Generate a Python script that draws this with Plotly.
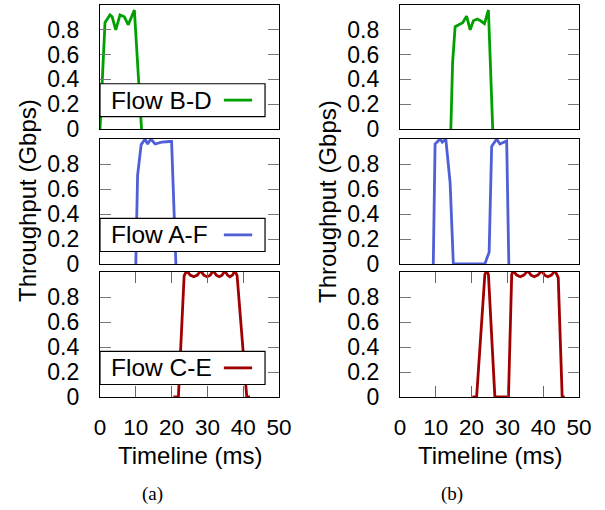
import plotly.graph_objects as go

# ---------------- data (time in ms, throughput in Gbps) ----------------
a_bd_t = [0, 1.4, 2.8, 3.4, 4.4, 5.6, 6.8, 7.9, 9.6, 11.6]
a_bd_v = [0, 0.86, 0.92, 0.905, 0.80, 0.92, 0.905, 0.84, 0.96, 0]

a_af_t = [10.0, 10.5, 11.5, 12.6, 13.3, 14.2, 15.4, 17.2, 19.5, 20.0, 21.2]
a_af_v = [0, 0.71, 0.955, 1.0, 0.96, 1.0, 0.96, 0.975, 0.98, 0.98, 0]

a_ce_t = [20.5, 21.9, 23.5, 24.2, 25.2, 26.2, 27.2, 28.1, 29.0, 29.9, 30.8, 31.6,
          32.5, 33.3, 34.1, 34.9, 35.6, 36.3, 37.0, 37.7, 38.3, 41.0, 41.9]
a_ce_v = [0, 0, 0.97, 1.01, 0.975, 0.962, 0.975, 1.01, 0.975, 0.962, 0.975, 1.01,
          0.975, 0.962, 0.975, 1.01, 0.975, 0.962, 0.975, 1.01, 0.97, 0, 0]

b_bd_t = [14.2, 14.7, 15.4, 16.8, 17.5, 18.6, 19.6, 20.5, 21.6, 22.5, 23.6, 24.7, 25.9]
b_bd_v = [0, 0.54, 0.825, 0.85, 0.857, 0.91, 0.80, 0.873, 0.887, 0.873, 0.85, 0.96, 0]

b_af_t = [9.3, 9.8, 10.5, 11.2, 11.8, 12.8, 14.0, 14.9, 23.7, 24.9, 25.6, 26.1,
          27.0, 27.9, 29.8, 30.4]
b_af_v = [0, 0.96, 0.98, 1.0, 0.975, 1.0, 0.65, 0, 0, 0.095, 0.94, 0.96,
          1.0, 0.96, 0.985, 0]

b_ce_t = [20.2, 21.4, 23.7, 24.2, 24.7, 26.5, 30.3, 31.2, 31.6, 32.6, 33.6, 34.6,
          35.7, 36.6, 37.5, 38.5, 39.6, 40.4, 41.3, 42.3, 43.3, 44.2, 45.3, 46.0]
b_ce_v = [0, 0, 0.98, 1.01, 0.98, 0, 0, 0.98, 1.01, 0.975, 0.962, 0.975,
          1.01, 0.975, 0.962, 0.975, 1.01, 0.975, 0.962, 0.975, 1.01, 0.955, 0, 0]

flow_names = ["Flow B-D", "Flow A-F", "Flow C-E"]
flow_colors = ["#00A000", "#4F5FD6", "#A00000"]
y_tickvals = [0, 0.2, 0.4, 0.6, 0.8]
y_ticktext = ["0", "0.2", "0.4", "0.6", "0.8"]
x_tickvals = [0, 10, 20, 30, 40, 50]
x_ticktext = ["0", "10", "20", "30", "40", "50"]
captions = ["(a)", "(b)"]

series = [
    (a_bd_t, a_bd_v, 0), (a_af_t, a_af_v, 1), (a_ce_t, a_ce_v, 2),
    (b_bd_t, b_bd_v, 0), (b_af_t, b_af_v, 1), (b_ce_t, b_ce_v, 2),
]

# ---------------- layout geometry (pixels) ----------------
W, H = 605, 510
col_px = [(100, 279), (400, 579)]
row_px = [(5, 129), (139, 264), (272, 397)]
FONT = "Liberation Sans, Arial, sans-serif"

fig = go.Figure()
layout = dict(
    width=W, height=H, margin=dict(l=0, r=0, t=0, b=0, autoexpand=False),
    paper_bgcolor="white", plot_bgcolor="white", showlegend=False,
    font=dict(family=FONT, size=23, color="black"),
)
shapes, annotations = [], []

for i, (t, v, fi) in enumerate(series):
    n = i + 1
    col, row = i // 3, i % 3
    xs = "" if n == 1 else str(n)
    fig.add_trace(go.Scatter(
        x=t, y=v, mode="lines", name=flow_names[fi],
        line=dict(color=flow_colors[fi], width=2.8),
        xaxis="x" + xs, yaxis="y" + xs,
    ))
    x0, x1 = col_px[col]
    y0, y1 = row_px[row]
    bottom = row == 2
    layout["xaxis" + xs] = dict(
        domain=[x0 / W, x1 / W], anchor="y" + xs, range=[0, 50], automargin=False,
        showline=True, linecolor="black", linewidth=1.2, mirror="ticks" if bottom else True,
        showgrid=False, zeroline=False,
        ticks="inside" if bottom else "", ticklen=11, tickcolor="#666666", tickwidth=1.2,
        tickvals=x_tickvals, ticktext=x_ticktext, showticklabels=bottom,
        tickfont=dict(size=22.5), ticklabelstandoff=10,
    )
    layout["yaxis" + xs] = dict(
        domain=[1 - y1 / H, 1 - y0 / H], anchor="x" + xs, range=[0, 1.0], automargin=False,
        showline=True, linecolor="black", linewidth=1.2, mirror="ticks",
        showgrid=False, zeroline=False,
        ticks="inside", ticklen=11, tickcolor="#777777", tickwidth=1.2,
        tickvals=y_tickvals, ticktext=y_ticktext,
        tickfont=dict(size=23), ticklabelstandoff=15,
    )
    if col == 0:
        # legend box drawn as in the original (sample line right of the text)
        xr, yr = "x" + xs, "y" + xs
        shapes.append(dict(type="rect", xref=xr, yref=yr, x0=0, x1=46.1, y0=0.1, y1=0.365,
                           line=dict(color="black", width=1.2), fillcolor="white", layer="above"))
        shapes.append(dict(type="line", xref=xr, yref=yr, x0=34.6, x1=42.5, y0=0.233, y1=0.233,
                           line=dict(color=flow_colors[fi], width=2.8), layer="above"))
        annotations.append(dict(text=flow_names[fi], xref=xr, yref=yr, x=2.6, y=0.233,
                                xanchor="left", yanchor="middle", showarrow=False,
                                font=dict(size=24.5)))

for c, (x0, x1) in enumerate(col_px):
    annotations.append(dict(text="Throughput (Gbps)", textangle=-90, xref="paper", yref="paper",
                            x=(x0 - 72) / W, y=1 - 201 / H, xanchor="center", yanchor="middle",
                            showarrow=False, font=dict(size=24)))
    annotations.append(dict(text="Timeline (ms)", xref="paper", yref="paper",
                            x=(x0 + x1) / 2 / W, y=1 - 455 / H, xanchor="center", yanchor="middle",
                            showarrow=False, font=dict(size=24)))
    annotations.append(dict(text=captions[c], xref="paper", yref="paper",
                            x=(x0 + 52) / W, y=1 - 494 / H, xanchor="center", yanchor="middle",
                            showarrow=False,
                            font=dict(size=19, family="Liberation Serif, Times New Roman, serif")))

layout["shapes"] = shapes
layout["annotations"] = annotations
fig.update_layout(**layout)
fig.write_html("out.html", config={"displayModeBar": False},
               post_script="document.body.style.margin='0';")
